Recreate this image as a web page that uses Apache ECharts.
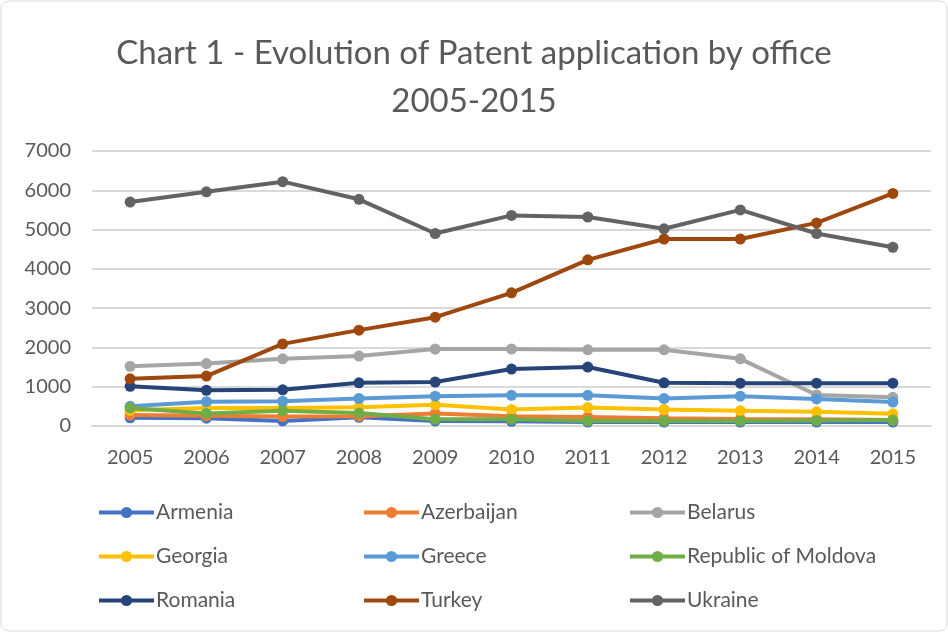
<!DOCTYPE html>
<html><head><meta charset="utf-8">
<script src="https://cdn.jsdelivr.net/npm/echarts@6/dist/echarts.min.js"></script>
<style>html,body{margin:0;padding:0;background:#fff}#c{width:948px;height:632px}</style>
</head><body><div id="c"></div>
<script>
var years = ['2005','2006','2007','2008','2009','2010','2011','2012','2013','2014','2015'];
var yTicks = [0, 1000, 2000, 3000, 4000, 5000, 6000, 7000];
var armenia    = [210, 200, 130, 220, 130, 120, 100, 100, 100, 100, 100];
var azerbaijan = [280, 260, 240, 250, 320, 250, 230, 200, 180, 170, 150];
var belarus    = [1520, 1590, 1710, 1780, 1960, 1960, 1940, 1940, 1710, 790, 730];
var georgia    = [400, 460, 460, 480, 540, 420, 470, 420, 390, 360, 310];
var greece     = [500, 620, 630, 700, 760, 780, 780, 700, 760, 690, 610];
var moldova    = [460, 320, 390, 330, 170, 170, 130, 130, 130, 140, 150];
var romania    = [1010, 910, 920, 1100, 1120, 1450, 1500, 1100, 1090, 1090, 1090];
var turkey     = [1200, 1270, 2090, 2440, 2770, 3390, 4230, 4760, 4760, 5170, 5920];
var ukraine    = [5700, 5960, 6220, 5770, 4900, 5360, 5320, 5020, 5500, 4900, 4550];

var names  = ['Armenia','Azerbaijan','Belarus','Georgia','Greece','Republic of Moldova','Romania','Turkey','Ukraine'];
var values = [armenia, azerbaijan, belarus, georgia, greece, moldova, romania, turkey, ukraine];
var colors = ['#4472C4','#ED7D31','#A5A5A5','#FFC000','#5B9BD5','#70AD47','#264478','#9E480E','#636363'];

var font = 'Lato, "Open Sans", sans-serif';
var series = names.map(function(n,i){
  return {name:n, type:'line', data:values[i], symbol:'circle', symbolSize:11,
    itemStyle:{color:colors[i]}, lineStyle:{width:4, color:colors[i]}, z: 2 + i};
});
function legendCol(list, left){
  return {orient:'vertical', left:left, top:497, itemGap:23, itemWidth:55, itemHeight:14,
    lineStyle:{width:4}, itemStyle:{borderWidth:0},
    data:list, textStyle:{fontSize:21, color:'#595959', fontFamily:font, padding:[0,0,0,-3]}};
}
var chart = echarts.init(document.getElementById('c'));
chart.setOption({
  backgroundColor:'#fff',
  color: colors,
  title:{text:'Chart 1 - Evolution of Patent application by office\n2005-2015', left:'center', top:24,
    textStyle:{fontSize:33, fontWeight:'normal', color:'#595959', fontFamily:font, lineHeight:48}},
  legend:[
    legendCol(['Armenia','Georgia','Romania'], 92),
    legendCol(['Azerbaijan','Greece','Turkey'], 357),
    legendCol(['Belarus','Republic of Moldova','Ukraine'], 623)
  ],
  grid:{left:92, right:17, top:151, bottom:206},
  xAxis:{type:'category', data:years, boundaryGap:true,
    axisLine:{lineStyle:{color:'#D9D9D9', width:2}}, axisTick:{show:false},
    axisLabel:{fontSize:20, color:'#595959', fontFamily:font, margin:22}},
  yAxis:{type:'value', min:yTicks[0], max:yTicks[yTicks.length-1], interval:1000,
    axisLine:{show:false}, axisTick:{show:false},
    splitLine:{lineStyle:{color:'#D9D9D9', width:2}},
    axisLabel:{fontSize:20, color:'#595959', fontFamily:font, margin:21, formatter:function(v){return String(v);}}},
  graphic:[{type:'rect', shape:{x:1, y:1, width:946, height:630, r:8}, style:{fill:'none', stroke:'#D9D9D9', lineWidth:1}, silent:true}],
  series: series
});
</script></body></html>
